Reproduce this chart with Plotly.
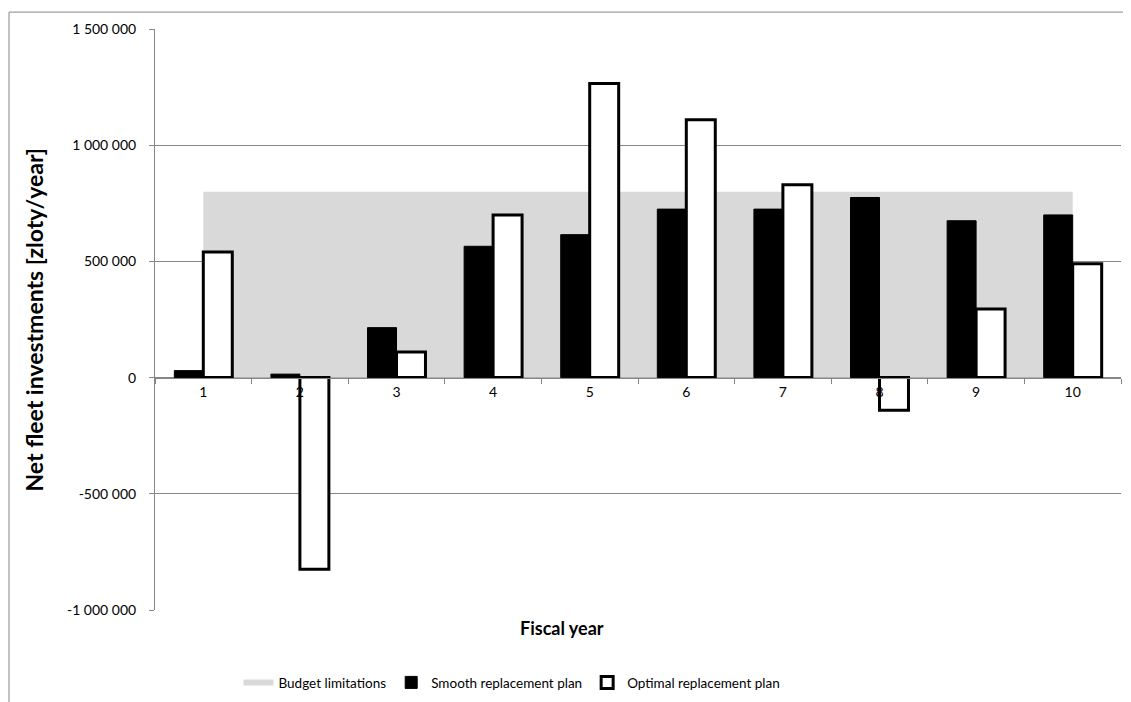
import plotly.graph_objects as go

# ---- data ----
years = ["1", "2", "3", "4", "5", "6", "7", "8", "9", "10"]
budget = [800000, 800000, 800000, 800000, 800000, 800000, 800000, 800000, 800000, 800000]
smooth = [30000, 15000, 215000, 565000, 615000, 725000, 725000, 775000, 675000, 700000]
optimal = [540000, -825000, 110000, 700000, 1265000, 1110000, 830000, -140000, 295000, 490000]
ytick_vals = [-1000000, -500000, 0, 500000, 1000000, 1500000]
ytick_text = [f"{v:,}".replace(",", " ") for v in ytick_vals]

FONT = "Lato"
GRID = "#868686"

# page offset of the figure (body margin) and plot-area geometry in page pixels
OFF = 8
W, H = 1131, 702
PX0, PX1, PY0, PY1 = 155, 1121, 26, 610
ML = PX0 - OFF
MT = PY0 - OFF
PW = PX1 - PX0
PH = PY1 - PY0
MR = W - ML - PW
MB = H - MT - PH


def px(x):
    return (x - PX0) / PW


def py(y):
    return (PY1 - y) / PH


fig = go.Figure()

fig.add_trace(go.Scatter(
    x=years, y=budget, name="Budget limitations",
    mode="none", fill="tozeroy", fillcolor="#d9d9d9",
    xaxis="x", yaxis="y",
))
fig.add_trace(go.Bar(
    x=years, y=smooth, name="Smooth replacement plan",
    marker=dict(color="black", line=dict(color="black", width=1)),
    xaxis="x2", yaxis="y2",
))
fig.add_trace(go.Bar(
    x=years, y=optimal, name="Optimal replacement plan",
    marker=dict(color="white", line=dict(color="black", width=3)),
    xaxis="x2", yaxis="y2",
))

yr = [-1000000, 1500000]
zero_pos = (0 - yr[0]) / (yr[1] - yr[0])

fig.update_layout(
    width=W, height=H,
    margin=dict(l=ML, r=MR, t=MT, b=MB),
    paper_bgcolor="white", plot_bgcolor="white",
    font=dict(family=FONT, size=14, color="black"),
    barmode="group", bargap=0.4, bargroupgap=0,
    showlegend=True,
    legend=dict(
        orientation="h", x=px(512), xanchor="center",
        y=py(683), yanchor="middle",
        font=dict(family=FONT, size=13.5, color="black"),
        itemwidth=30, traceorder="normal",
        bgcolor="rgba(0,0,0,0)",
    ),
    xaxis=dict(
        type="category", categoryorder="array", categoryarray=years,
        range=[-0.5, 9.5], anchor="free", position=zero_pos,
        showline=True, linecolor=GRID, linewidth=1,
        ticks="outside", tickson="boundaries", ticklen=5, tickcolor=GRID,
        showgrid=False, zeroline=False, ticklabelstandoff=2,
        tickfont=dict(family=FONT, size=14, color="black"),
    ),
    yaxis=dict(
        range=yr, tickvals=ytick_vals, ticktext=ytick_text,
        showline=True, linecolor=GRID, linewidth=1,
        ticks="outside", ticklen=5, tickcolor=GRID,
        showgrid=True, gridcolor=GRID, gridwidth=1,
        zeroline=False, ticklabelstandoff=10,
        tickfont=dict(family=FONT, size=14, color="black"),
    ),
    xaxis2=dict(
        type="category", categoryorder="array", categoryarray=years,
        range=[-0.5, 9.5], overlaying="x", anchor="y2", visible=False,
    ),
    yaxis2=dict(
        range=yr, overlaying="y", anchor="x2", visible=False,
    ),
    annotations=[
        dict(text="<b>Net fleet investments [zloty/year]</b>", textangle=-90,
             xref="paper", yref="paper", x=px(33), y=py(318),
             xanchor="center", yanchor="middle", showarrow=False,
             font=dict(family=FONT, size=23, color="black")),
        dict(text="<b>Fiscal year</b>",
             xref="paper", yref="paper", x=px(562), y=py(628),
             xanchor="center", yanchor="middle", showarrow=False,
             font=dict(family=FONT, size=18, color="black")),
    ],
    shapes=[
        dict(type="rect", xref="paper", yref="paper",
             x0=px(OFF + 1), x1=px(1150), y0=py(720), y1=py(OFF + 1),
             line=dict(color=GRID, width=1), fillcolor="rgba(0,0,0,0)",
             layer="below"),
    ],
)

fig.write_html("out.html")
